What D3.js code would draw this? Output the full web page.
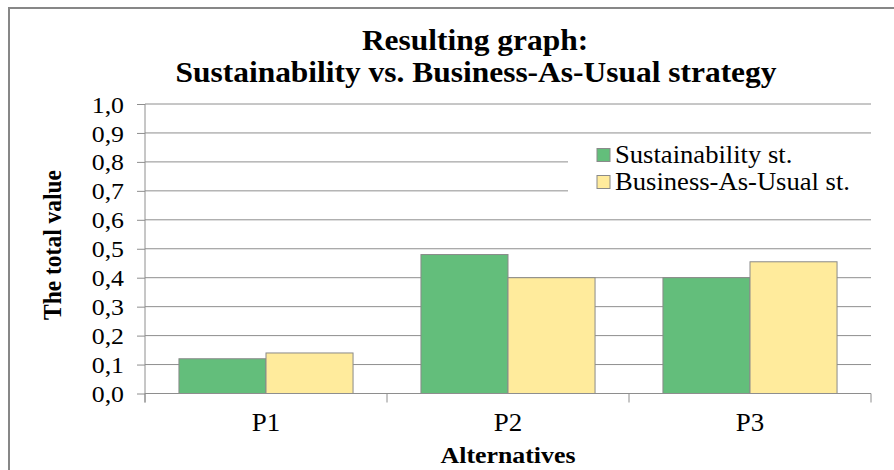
<!DOCTYPE html>
<html>
<head>
<meta charset="utf-8">
<script src="https://cdn.jsdelivr.net/npm/d3@7"></script>
<style>
  html, body { margin: 0; padding: 0; background: #fff; }
  svg { display: block; }
  svg text { font-family: "Liberation Serif", Tinos, "Times New Roman", Times, "DejaVu Serif", serif !important; fill: #000; }
</style>
</head>
<body>
<div id="chart"></div>
<script>
// donnees du graphique
const categories = ["P1", "P2", "P3"];
const seriesNames = ["Sustainability st.", "Business-As-Usual st."];
const sustainability = [0.12, 0.48, 0.40];
const businessAsUsual = [0.14, 0.40, 0.455];
const yTicks = [0, 0.1, 0.2, 0.3, 0.4, 0.5, 0.6, 0.7, 0.8, 0.9, 1.0];
const colors = ["#63be7b", "#ffeb9c"];

const W = 894, H = 470;
const stretch = 1.1; // le texte de l'original est un peu elargi
const margin = { top: 104, right: 23, bottom: 76.5, left: 145 };
const innerW = W - margin.left - margin.right;
const innerH = H - margin.top - margin.bottom;

const svg = d3.select("#chart").append("svg")
  .attr("width", W)
  .attr("height", H)
  .attr("font-family", "Liberation Serif, serif");

// cadre du graphique
svg.append("rect")
  .attr("x", 9).attr("y", 8)
  .attr("width", W + 20).attr("height", H + 20)
  .attr("fill", "#fff")
  .attr("stroke", "#878787")
  .attr("stroke-width", 2);

// petit utilitaire pour placer un texte elargi
const addText = (parent, x, y, txt, opts = {}) => {
  const t = parent.append("text")
    .attr("transform", `translate(${x},${y}) scale(${stretch},1)` + (opts.rotate ? ` rotate(${opts.rotate})` : ""))
    .attr("text-anchor", opts.anchor || "middle")
    .attr("font-size", opts.size || 23)
    .attr("font-weight", opts.bold ? "bold" : "normal")
    .text(txt);
  return t;
};

// titre
addText(svg, 475, 50, "Resulting graph:", { size: 28.6, bold: true });
addText(svg, 476, 82, "Sustainability vs. Business-As-Usual strategy", { size: 28.6, bold: true });

const g = svg.append("g")
  .attr("transform", `translate(${margin.left},${margin.top})`);

const x0 = d3.scaleBand()
  .domain(categories)
  .range([0, innerW])
  .padding(0);

const x1 = d3.scaleBand()
  .domain(seriesNames)
  .range([0, x0.bandwidth()])
  .paddingInner(0)
  .paddingOuter(0.39);

const y = d3.scaleLinear()
  .domain([0, 1])
  .range([innerH, 0]);

// grille horizontale
g.selectAll(".grid")
  .data(yTicks.slice(1))
  .enter()
  .append("line")
  .attr("class", "grid")
  .attr("x1", 0).attr("x2", innerW)
  .attr("y1", d => y(d)).attr("y2", d => y(d))
  .attr("stroke", "#8e8e8e")
  .attr("stroke-width", 1);

// axe des y
const yAxis = g.append("g")
  .call(d3.axisLeft(y)
    .tickValues(yTicks)
    .tickSize(8)
    .tickPadding(12)
    .tickFormat(d => d.toFixed(1).replace(".", ",")));
yAxis.attr("font-family", null);
yAxis.select(".domain").remove();
yAxis.selectAll(".tick line").attr("stroke", "#8e8e8e");
yAxis.selectAll(".tick text")
  .attr("font-size", 23.5)
  .attr("fill", "#000")
  .attr("dy", null)
  .attr("dominant-baseline", "central")
  .attr("transform", `scale(${stretch},1)`)
  .attr("x", -21 / stretch);

// barres
const values = [sustainability, businessAsUsual];
const rows = categories.map((c, i) => ({
  cat: c,
  bars: seriesNames.map((s, j) => ({ name: s, value: values[j][i], color: colors[j] }))
}));

const groups = g.selectAll(".group")
  .data(rows)
  .enter()
  .append("g")
  .attr("transform", d => `translate(${x0(d.cat)},0)`);

groups.selectAll("rect")
  .data(d => d.bars)
  .enter()
  .append("rect")
  .attr("x", d => x1(d.name))
  .attr("y", d => y(d.value))
  .attr("width", x1.bandwidth())
  .attr("height", d => innerH - y(d.value))
  .attr("fill", d => d.color)
  .attr("stroke", "#8a8a8a")
  .attr("stroke-width", 1);

// axe des x (lignes faites a la main, ticks entre categories)
g.append("line")
  .attr("x1", 0).attr("x2", innerW)
  .attr("y1", innerH).attr("y2", innerH)
  .attr("stroke", "#8e8e8e");
g.append("line")
  .attr("x1", 0).attr("x2", 0)
  .attr("y1", 0).attr("y2", innerH + 9)
  .attr("stroke", "#8e8e8e");

const bounds = categories.map(c => x0(c)).concat([innerW]);
g.selectAll(".xtick")
  .data(bounds)
  .enter()
  .append("line")
  .attr("x1", d => d).attr("x2", d => d)
  .attr("y1", innerH).attr("y2", innerH + 9)
  .attr("stroke", "#8e8e8e");

categories.forEach(c => {
  addText(g, x0(c) + x0.bandwidth() / 2, innerH + 37, c, { size: 24.5 });
});

// titres des axes
addText(g, innerW / 2, innerH + 69.5, "Alternatives", { size: 23.5, bold: true });
addText(svg, 61, 245, "The total value", { size: 23.5, bold: true, rotate: -90 });

// legende
const legend = g.append("g")
  .attr("transform", `translate(${568 - margin.left},${140 - margin.top})`);
legend.append("rect")
  .attr("width", 871 - 568).attr("height", 73)
  .attr("fill", "#fff");

seriesNames.forEach((s, i) => {
  const ly = 15 + i * 27;
  legend.append("rect")
    .attr("x", 29).attr("y", ly - 6.5)
    .attr("width", 13).attr("height", 13)
    .attr("fill", colors[i])
    .attr("stroke", "#8a8a8a");
  addText(legend, 47, ly + 8, s, { size: 24.2, anchor: "start" });
});
</script>
</body>
</html>
